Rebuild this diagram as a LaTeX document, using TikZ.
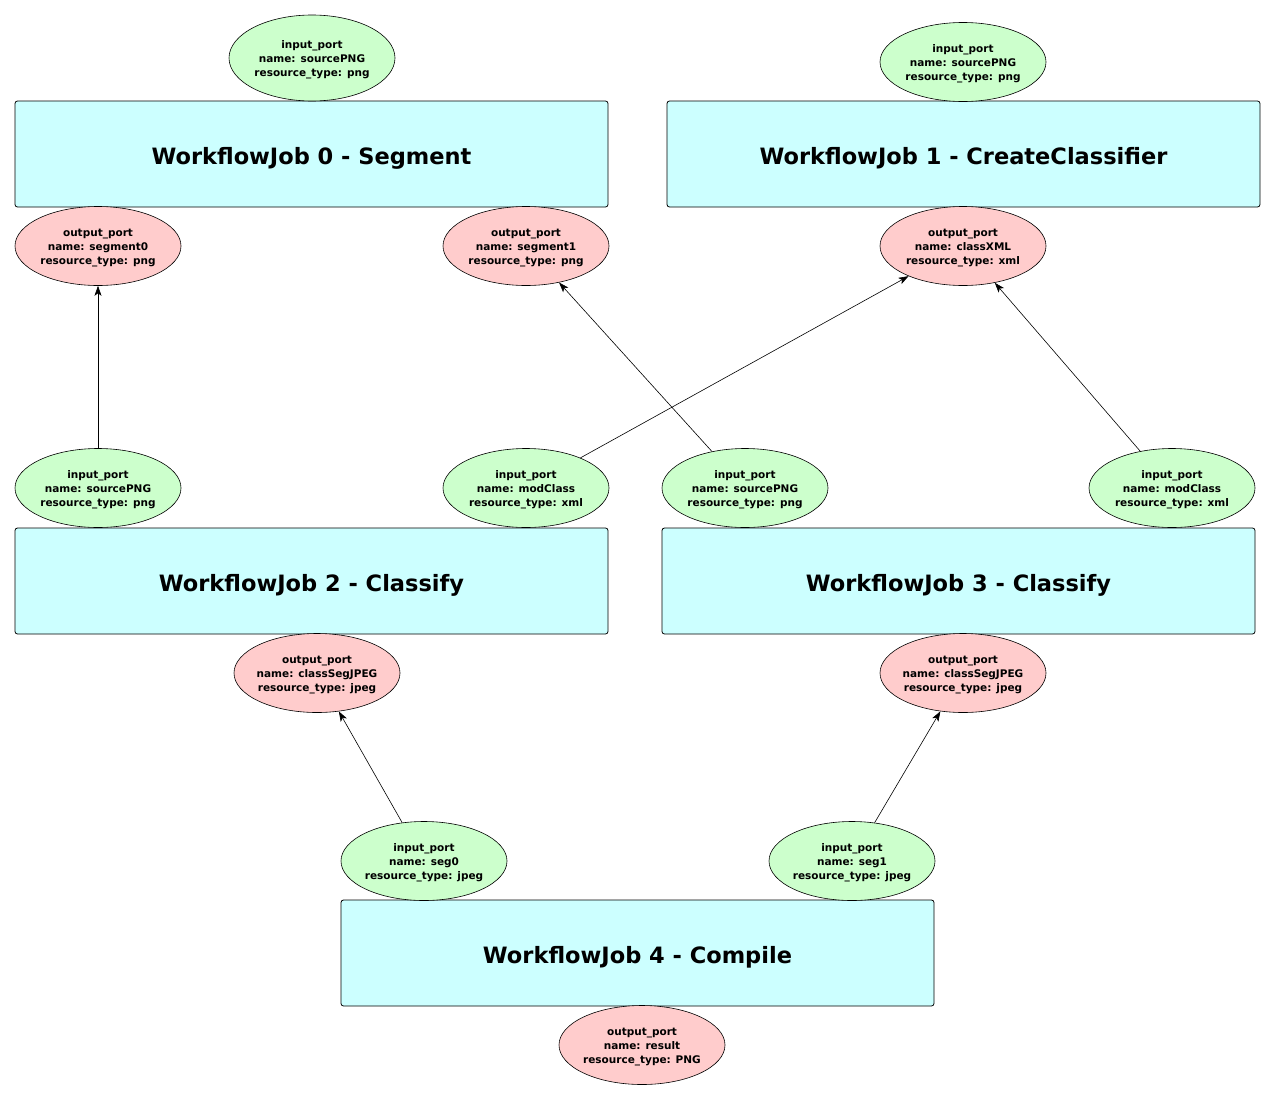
\documentclass[tikz,border=0pt]{standalone}
\usepackage{fontspec}
\setmainfont{DejaVu Sans}
\usetikzlibrary{shapes.geometric,arrows.meta}
\definecolor{jobfill}{HTML}{CCFFFF}
\definecolor{infill}{HTML}{CCFFCC}
\definecolor{outfill}{HTML}{FFCCCC}
\newcommand\jobtitle[1]{\raisebox{-4pt}[\height][\depth]{#1}}
\newcommand\portlabel[3]{\raisebox{-2pt}[\height][\depth]{\begin{tabular}{@{}c@{}}#1\\#2\\#3\end{tabular}}}
\tikzset{
  job/.style={draw=black, fill=jobfill, rounded corners=2.5pt, minimum width=593pt, minimum height=106pt, inner sep=0pt, font=\fontsize{22.5}{26}\selectfont\bfseries, line width=0.8pt},
  port/.style={ellipse, draw=black, inner sep=0pt, inner xsep=-3pt, minimum width=166pt, minimum height=79pt, font=\fontsize{10.5}{14}\selectfont\bfseries, line width=0.6pt},
  inport/.style={port, fill=infill},
  outport/.style={port, fill=outfill},
  conn/.style={-{Stealth[length=10pt,width=7pt,inset=2.5pt]}, line width=0.6pt}
}
\begin{document}
\begin{tikzpicture}[x=1pt,y=-1pt]
\useasboundingbox (0,0) rectangle (1276,1100);
% jobs
\node[job] (j0) at (311.5,154) {\jobtitle{WorkflowJob 0 - Segment}};
\node[job] (j1) at (963.5,154) {\jobtitle{WorkflowJob 1 - CreateClassifier}};
\node[job] (j2) at (311.5,581) {\jobtitle{WorkflowJob 2 - Classify}};
\node[job] (j3) at (958.5,581) {\jobtitle{WorkflowJob 3 - Classify}};
\node[job] (j4) at (637.5,953) {\jobtitle{WorkflowJob 4 - Compile}};
% ports of job 0 and 1
\node[inport, minimum height=86pt] (j0in) at (312,58) {\portlabel{input\_port}{name: sourcePNG}{resource\_type: png}};
\node[inport] (j1in) at (963,62) {\portlabel{input\_port}{name: sourcePNG}{resource\_type: png}};
\node[outport] (seg0) at (98,246) {\portlabel{output\_port}{name: segment0}{resource\_type: png}};
\node[outport] (seg1) at (526,246) {\portlabel{output\_port}{name: segment1}{resource\_type: png}};
\node[outport] (cxml) at (963,246) {\portlabel{output\_port}{name: classXML}{resource\_type: xml}};
% ports of job 2 and 3
\node[inport] (j2src) at (98,488) {\portlabel{input\_port}{name: sourcePNG}{resource\_type: png}};
\node[inport] (j2mod) at (526,488) {\portlabel{input\_port}{name: modClass}{resource\_type: xml}};
\node[inport] (j3src) at (745,488) {\portlabel{input\_port}{name: sourcePNG}{resource\_type: png}};
\node[inport] (j3mod) at (1172,488) {\portlabel{input\_port}{name: modClass}{resource\_type: xml}};
\node[outport] (j2out) at (317,673) {\portlabel{output\_port}{name: classSegJPEG}{resource\_type: jpeg}};
\node[outport] (j3out) at (963,673) {\portlabel{output\_port}{name: classSegJPEG}{resource\_type: jpeg}};
% ports of job 4
\node[inport] (j4s0) at (424,861) {\portlabel{input\_port}{name: seg0}{resource\_type: jpeg}};
\node[inport] (j4s1) at (852,861) {\portlabel{input\_port}{name: seg1}{resource\_type: jpeg}};
\node[outport] (res) at (642,1045) {\portlabel{output\_port}{name: result}{resource\_type: PNG}};
% connectors
\draw[conn] (j2src) -- (seg0);
\draw[conn] (j2mod) -- (cxml);
\draw[conn] (j3src) -- (seg1);
\draw[conn] (j3mod) -- (cxml);
\draw[conn] (j4s0) -- (j2out);
\draw[conn] (j4s1) -- (j3out);
\end{tikzpicture}
\end{document}
